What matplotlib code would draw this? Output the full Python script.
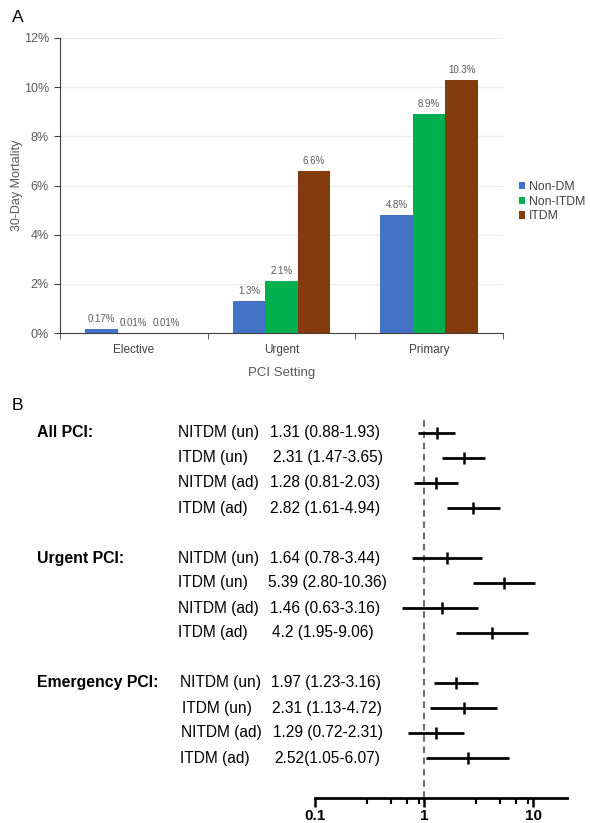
import matplotlib
matplotlib.use("Agg")
import matplotlib.pyplot as plt
import matplotlib.transforms as mtransforms
import numpy as np

# ---------------- data ----------------
settings = ["Elective", "Urgent", "Primary"]
series_names = ["Non-DM", "Non-ITDM", "ITDM"]
non_dm = [0.17, 1.3, 4.8]
non_itdm = [0.01, 2.1, 8.9]
itdm = [0.01, 6.6, 10.3]
bar_labels = [["0.17%", "1.3%", "4.8%"],
              ["0.01%", "2.1%", "8.9%"],
              ["0.01%", "6.6%", "10.3%"]]
y_ticks = [0, 2, 4, 6, 8, 10, 12]

groups = ["All PCI:", "Urgent PCI:", "Emergency PCI:"]
row_labels = ["NITDM (un)", "ITDM (un)", "NITDM (ad)", "ITDM (ad)"] * 3
row_texts = ["1.31 (0.88-1.93)", "2.31 (1.47-3.65)", "1.28 (0.81-2.03)", "2.82 (1.61-4.94)",
             "1.64 (0.78-3.44)", "5.39 (2.80-10.36)", "1.46 (0.63-3.16)", "4.2 (1.95-9.06)",
             "1.97 (1.23-3.16)", "2.31 (1.13-4.72)", "1.29 (0.72-2.31)", "2.52(1.05-6.07)"]
or_est = [1.31, 2.31, 1.28, 2.82, 1.64, 5.39, 1.46, 4.2, 1.97, 2.31, 1.29, 2.52]
or_lo = [0.88, 1.47, 0.81, 1.61, 0.78, 2.80, 0.63, 1.95, 1.23, 1.13, 0.72, 1.05]
or_hi = [1.93, 3.65, 2.03, 4.94, 3.44, 10.36, 3.16, 9.06, 3.16, 4.72, 2.31, 6.07]
x_ticks_forest = [0.1, 1, 10]
x_ticklabels_forest = ["0.1", "1", "10"]
x_minor_forest = [0.3, 0.5, 0.7, 0.9, 3, 5, 7, 9]

# ---------------- figure ----------------
W, H = 590, 823
fig = plt.figure(figsize=(W / 100, H / 100), dpi=100)
fig.patch.set_facecolor("white")
sans = "Liberation Sans"


def px(x0, y0, x1, y1):
    return [x0 / W, 1 - y1 / H, (x1 - x0) / W, (y1 - y0) / H]


# ---------------- Panel A ----------------
gray = "#595959"
ax = fig.add_axes(px(60, 38, 503, 333))
colors = ["#4472C4", "#00B050", "#843C0C"]
x = np.arange(len(settings))
bw = 0.22
for i, (vals, c, nm) in enumerate(zip([non_dm, non_itdm, itdm], colors, series_names)):
    xs = x + (i - 1) * bw
    ax.bar(xs, vals, width=bw, color=c, label=nm, zorder=3)
    for xx, v, lab in zip(xs, vals, bar_labels[i]):
        ax.text(xx, v + 0.2, lab, ha="center", va="bottom", fontsize=7,
                color=gray, family=sans, zorder=4)
ax.set_xlim(-0.5, 2.5)
ax.set_ylim(0, 12)
ax.set_yticks(y_ticks)
ax.set_yticklabels([f"{t}%" for t in y_ticks], fontsize=9, color=gray, family=sans)
ax.yaxis.grid(True, color="#EBEBEB", lw=0.9, zorder=0)
ax.set_xticks(x)
ax.set_xticklabels(settings, fontsize=8.5, color="#404040", family=sans)
ax.tick_params(axis="x", length=0, pad=8)
ax.set_xticks([-0.5, 0.5, 1.5, 2.5], minor=True)
ax.tick_params(axis="x", which="minor", length=4, color="#404040", direction="out")
ax.tick_params(axis="y", length=4, color="#404040", pad=4)
for s in ["top", "right"]:
    ax.spines[s].set_visible(False)
ax.spines["left"].set_color("#404040")
ax.spines["bottom"].set_color("#404040")
ax.set_ylabel("30-Day Mortality", fontsize=9, color=gray, family=sans, va="center")
ax.yaxis.set_label_coords(-0.097, 0.5)
ax.set_xlabel("PCI Setting", fontsize=9.5, color=gray, family=sans)
ax.xaxis.set_label_coords(0.5, -0.115)
leg = ax.legend(loc="upper left", bbox_to_anchor=(1.035, 0.515), frameon=False,
                prop={"family": sans, "size": 8.8}, handlelength=0.55, handleheight=0.55,
                handletextpad=0.3, labelspacing=0.22, borderaxespad=0, borderpad=0)
for t in leg.get_texts():
    t.set_color("#404040")
fig.text(12 / W, 1 - 18 / H, "A", fontsize=12.5, family=sans, va="center", ha="left")

# ---------------- Panel B ----------------
fig.text(12 / W, 1 - 405 / H, "B", fontsize=12.5, family=sans, va="center", ha="left")
rows = np.array([0, 1, 2, 3, 5, 6, 7, 8, 10, 11, 12, 13])
row_top_px, row_step = 433, 25
ax_top, ax_bot = 420, 798
x_one, decade = 424, 109
fx0 = x_one - decade
fx1 = 567
axf = fig.add_axes(px(fx0, ax_top, fx1, ax_bot))
axf.set_xscale("log")
axf.set_xlim(0.1, 10 ** ((fx1 - x_one) / decade))
axf.set_ylim((ax_bot - row_top_px) / row_step, (ax_top - row_top_px) / row_step)
axf.patch.set_alpha(0)
for s in ["top", "right", "left"]:
    axf.spines[s].set_visible(False)
axf.spines["bottom"].set_linewidth(2.0)
axf.set_yticks([])
axf.set_xticks(x_ticks_forest)
axf.set_xticklabels(x_ticklabels_forest, fontsize=11, fontweight="bold", family=sans)
axf.set_xticks(x_minor_forest, minor=True)
axf.xaxis.set_minor_formatter(matplotlib.ticker.NullFormatter())
axf.tick_params(axis="x", which="major", length=6.5, width=1.8, direction="out", pad=1.5)
axf.tick_params(axis="x", which="minor", length=4, width=1.5, direction="out")
axf.axvline(1, color="#707070", lw=1.5, ls=(0, (3.2, 2.2)), zorder=1)
est = np.array(or_est)
lo = np.array(or_lo)
hi = np.array(or_hi)
axf.hlines(rows, lo, hi, color="black", lw=2.0, zorder=3)
axf.plot(est, rows, marker="|", ms=9, mew=1.8, color="black", ls="none", zorder=4)

trans = mtransforms.blended_transform_factory(fig.transFigure, axf.transData)
label_x = [178, 178, 178, 178, 178, 178, 178, 178, 180, 182, 181, 180]
value_x = [270, 273, 270, 270, 270, 268, 270, 272, 271, 272, 273, 274]
for r, lab, txt, lx, vx in zip(rows, row_labels, row_texts, label_x, value_x):
    fig.text(lx / W, r, lab, transform=trans, fontsize=11.2, family=sans,
             va="center", ha="left")
    fig.text(vx / W, r, txt, transform=trans, fontsize=11.2, family=sans,
             va="center", ha="left")
for g, r in zip(groups, [0, 5, 10]):
    fig.text(37 / W, r, g, transform=trans, fontsize=11.4, family=sans,
             fontweight="bold", va="center", ha="left")

fig.savefig("out.png", dpi=100, facecolor="white")
